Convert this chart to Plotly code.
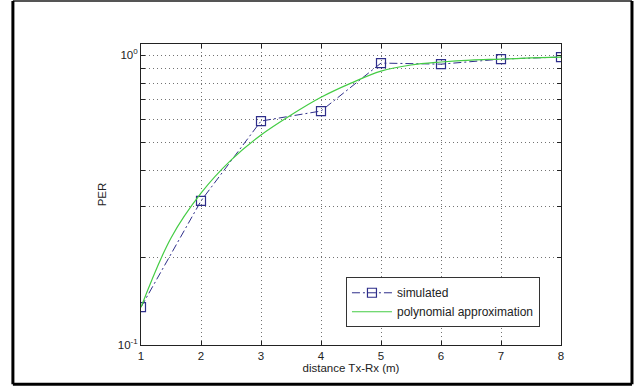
import plotly.graph_objects as go

# simulated data
dist = [1, 2, 3, 4, 5, 6, 7, 8]
per_sim = [0.135, 0.314, 0.592, 0.641, 0.938, 0.930, 0.968, 0.984]

# polynomial approximation
dist_fit = [1, 1.5, 2, 2.5, 3, 3.5, 4, 4.5, 5, 5.5, 6, 6.5, 7, 7.5, 8]
per_fit = [0.135, 0.234, 0.334, 0.434, 0.530, 0.621, 0.715, 0.800, 0.880, 0.924,
           0.946, 0.961, 0.968, 0.977, 0.984]

y_major = [0.1, 1.0]
y_ticktext = ["10<sup>-1</sup>", "10<sup>0</sup>"]
y_minor = [0.2, 0.3, 0.4, 0.5, 0.6, 0.7, 0.8, 0.9]
x_ticks = [1, 2, 3, 4, 5, 6, 7, 8]

blue = "#2e2e8a"
green = "#44cc44"
gridc = "rgba(0,0,0,0.55)"
griddash = "1px,3px"
font = "Liberation Sans, Arial, sans-serif"

fig = go.Figure()
fig.add_trace(go.Scatter(
    x=dist, y=per_sim, name="simulated", mode="lines+markers",
    line=dict(color=blue, width=1, dash="8px,3px,2px,3px"),
    marker=dict(symbol="square-open", size=9, color=blue, line=dict(width=1.2, color=blue)),
))
fig.add_trace(go.Scatter(
    x=dist_fit, y=per_fit, name="polynomial approximation", mode="lines",
    line=dict(color=green, width=1.2, shape="spline"),
))

axis_common = dict(
    showline=True, linecolor="#222", linewidth=1, mirror="ticks",
    ticks="inside", ticklen=4, tickcolor="#222",
    showgrid=True, gridcolor=gridc, griddash=griddash, gridwidth=1,
    zeroline=False,
    tickfont=dict(family=font, size=11.5, color="#222"),
)

fig.update_xaxes(
    range=[1, 8], tickvals=x_ticks,
    title=dict(text="distance Tx-Rx (m)", standoff=2,
               font=dict(family=font, size=11.5, color="#222")),
    **axis_common,
)
fig.update_yaxes(
    type="log", range=[-1, 0.038], tickvals=y_major, ticktext=y_ticktext,
    minor=dict(tickvals=y_minor, ticks="inside", ticklen=4, tickcolor="#222",
               showgrid=True, gridcolor=gridc, griddash=griddash, gridwidth=1),
    title=dict(text="PER", standoff=8,
               font=dict(family=font, size=11.5, color="#222")),
    **axis_common,
)

fig.update_layout(
    width=642, height=388,
    margin=dict(l=141, r=81, t=44, b=43),
    paper_bgcolor="white", plot_bgcolor="white",
    showlegend=True,
    legend=dict(
        x=0.488, y=0.225, xanchor="left", yanchor="top",
        bgcolor="white", bordercolor="#333", borderwidth=1,
        font=dict(family=font, size=12, color="#222"),
        tracegroupgap=0, itemwidth=40,
    ),
    shapes=[
        dict(type="line", xref="paper", yref="paper", x0=-0.305, x1=1.169, y0=1.143, y1=1.143,
             line=dict(color="#555", width=2)),
        dict(type="line", xref="paper", yref="paper", x0=-0.305, x1=-0.305, y0=-0.13, y1=1.143,
             line=dict(color="black", width=3)),
        dict(type="line", xref="paper", yref="paper", x0=1.169, x1=1.169, y0=-0.13, y1=1.143,
             line=dict(color="black", width=3)),
        dict(type="line", xref="paper", yref="paper", x0=-0.305, x1=1.169, y0=-0.13, y1=-0.13,
             line=dict(color="black", width=3)),
    ],
)

fig.write_html("out.html")
